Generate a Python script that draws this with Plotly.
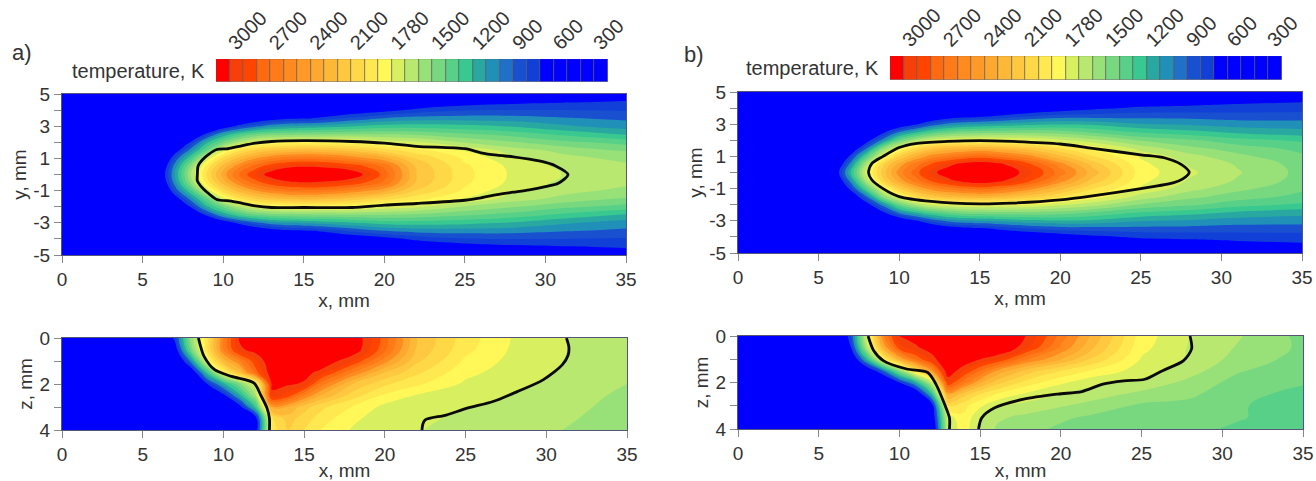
import plotly.graph_objects as go

W, H = 1316, 481
# ---------- data ----------
x_grid = [0,5,6,7,8,9,10,11,12,13,14,15,16,18,20,22,25,28,31,35]
y_levels = [0,0.5,1,1.5,2,2.5,3,3.5,4,4.5,5]
z_levels = [0,0.5,1,1.5,2,2.5,3,3.5,4]

a_y00 = [300,300,600,1100,1600,2020,2350,2600,2800,2980,3100,3120,3100,3020,2650,2200,1930,1780,1700,1640]
a_y05 = [300,300,550,1050,1520,1950,2250,2480,2650,2780,2860,2890,2880,2780,2580,2180,1920,1770,1680,1625]
a_y10 = [300,300,430,920,1300,1740,2050,2250,2400,2500,2560,2580,2570,2480,2340,2090,1880,1720,1640,1570]
a_y15 = [300,300,320,700,1050,1400,1760,1980,2100,2180,2220,2240,2230,2160,2040,1940,1790,1650,1570,1490]
a_y20 = [300,300,300,450,820,1180,1420,1620,1760,1810,1840,1850,1850,1840,1770,1720,1590,1510,1430,1360]
a_y25 = [300,300,300,300,520,850,1120,1290,1400,1450,1470,1480,1490,1500,1500,1480,1420,1360,1280,1190]
a_y30 = [300,300,300,300,330,480,680,850,970,1060,1100,1120,1140,1190,1240,1250,1230,1190,1120,1050]
a_y35 = [300,300,300,300,300,300,370,500,640,720,770,780,820,920,1000,1040,1050,1040,1010,980]
a_y40 = [300,300,300,300,300,300,300,300,380,440,480,500,540,680,750,830,890,900,900,890]
a_y45 = [300,300,300,300,300,300,300,300,300,300,320,350,380,480,600,660,730,770,790,810]
a_y50 = [300,300,300,300,300,300,300,300,300,300,300,300,300,340,400,500,600,660,690,730]

a_z00 = [300,300,450,850,1550,1950,2500,2920,2970,3050,3100,3120,3100,3010,2650,2200,1950,1790,1705,1650]
a_z05 = [300,300,380,700,1450,2000,2500,2870,2960,3060,3110,3130,3110,3000,2620,2180,1930,1780,1705,1640]
a_z10 = [300,300,320,500,1050,1800,2250,2500,2780,3020,3060,3060,3020,2800,2440,2120,1880,1765,1700,1630]
a_z15 = [300,300,300,350,620,1250,1850,2200,2650,2985,2990,2950,2860,2500,2200,2020,1830,1745,1690,1620]
a_z20 = [300,300,300,300,420,800,1150,1480,1800,2920,2920,2880,2560,2200,2020,1920,1780,1720,1675,1600]
a_z25 = [300,300,300,300,300,450,750,1150,1600,2880,2750,2500,2300,2050,1880,1790,1740,1695,1655,1575]
a_z30 = [300,300,300,300,300,300,400,730,1250,2350,2300,2150,2030,1895,1770,1750,1705,1670,1640,1555]
a_z35 = [300,300,300,300,300,300,300,450,720,1980,2150,2050,1960,1820,1750,1720,1680,1650,1620,1540]
a_z40 = [300,300,300,300,300,300,300,300,700,1950,2100,2000,1900,1790,1740,1705,1670,1640,1600,1530]

b_y00 = [300,300,650,1200,1770,2150,2450,2650,2850,2990,3080,3100,3060,2840,2550,2250,1850,1720,1610,1470]
b_y05 = [300,300,560,1060,1640,2080,2350,2550,2720,2850,2960,3010,2960,2740,2450,2170,1830,1690,1590,1460]
b_y10 = [300,300,460,850,1350,1800,2100,2300,2450,2540,2600,2640,2600,2450,2230,2010,1785,1640,1530,1420]
b_y15 = [300,300,350,620,1000,1500,1790,2010,2150,2220,2260,2280,2260,2150,2000,1860,1660,1530,1450,1370]
b_y20 = [300,300,300,440,730,1050,1400,1600,1730,1790,1810,1820,1810,1800,1720,1640,1490,1420,1340,1280]
b_y25 = [300,300,300,300,500,760,1020,1180,1310,1390,1440,1460,1470,1470,1450,1390,1290,1240,1180,1140]
b_y30 = [300,300,300,300,320,450,640,780,930,1030,1080,1100,1120,1170,1190,1180,1110,1085,1050,1040]
b_y35 = [300,300,300,300,300,300,340,480,610,690,740,770,810,890,940,950,960,960,950,950]
b_y40 = [300,300,300,300,300,300,300,300,360,420,470,500,540,650,710,770,820,830,840,850]
b_y45 = [300,300,300,300,300,300,300,300,300,300,320,340,370,450,600,640,690,730,760,780]
b_y50 = [300,300,300,300,300,300,300,300,300,300,300,300,300,330,380,440,520,590,640,680]

b_z00 = [300,300,420,900,1770,2480,2910,2950,2995,3060,3100,3110,3090,2880,2560,2270,1850,1700,1610,1470]
b_z05 = [300,300,350,800,1650,2300,2760,2880,2960,3040,3100,3110,3080,2800,2480,2210,1830,1690,1590,1480]
b_z10 = [300,300,300,550,1200,1870,2300,2600,2850,3020,3020,2900,2810,2500,2300,2080,1790,1685,1560,1460]
b_z15 = [300,300,300,330,600,1000,1500,2000,2400,3010,2800,2600,2400,2150,2000,1880,1750,1640,1510,1430]
b_z20 = [300,300,300,300,300,420,800,1150,1700,2800,2550,2320,2150,1950,1820,1730,1670,1570,1460,1410]
b_z25 = [300,300,300,300,300,300,350,560,1200,2350,2150,2000,1900,1770,1690,1650,1570,1520,1430,1370]
b_z30 = [300,300,300,300,300,300,300,400,700,2000,1930,1820,1710,1660,1610,1560,1480,1470,1410,1350]
b_z35 = [300,300,300,300,300,300,300,320,600,1750,1880,1710,1620,1570,1520,1480,1460,1450,1410,1340]
b_z40 = [300,300,300,300,300,300,300,300,500,1720,1850,1690,1590,1530,1480,1450,1440,1430,1380,1330]

# black melt-front outlines
a_top_x = [8.4,8.45,8.7,9.1,9.6,10.3,11,12,13,15,18,20,22,25,26,27,28,29,30,30.6,31.4,30.8,30,29,28,27,26,25,22,20,18,15,13,12,11,10.5,9.6,9,8.6,8.4,8.4]
a_top_y = [0,0.55,0.9,1.25,1.55,1.6,1.75,1.95,2.05,2.1,2.05,1.95,1.75,1.6,1.35,1.2,1.1,0.95,0.75,0.55,0,-0.55,-0.75,-0.95,-1.1,-1.25,-1.45,-1.6,-1.8,-1.9,-2.05,-2.05,-2.05,-1.95,-1.75,-1.65,-1.55,-1.1,-0.7,-0.4,0]
a_bot_l_x = [8.45,8.6,8.8,9.45,10.5,11.9,12.3,12.7,12.85,12.85]
a_bot_l_z = [0,0.4,0.8,1.38,1.67,1.96,2.47,3.05,3.5,4]
a_bot_r_x = [22.3,22.35,22.5,23.8,25.1,26.7,28.2,29.8,31,31.35,31.4,31.25]
a_bot_r_z = [4,3.75,3.56,3.35,3.05,2.76,2.33,1.82,1.16,0.75,0.4,0]
b_top_x = [8.1,8.3,9,10,11,13,15,17,20,22,25,26.5,27.5,28,27.6,27,25,22,20,17,15,12,10,9,8.3,8.1]
b_top_y = [0,0.55,1.0,1.55,1.8,1.93,1.98,1.93,1.77,1.5,1.1,0.9,0.5,0,-0.4,-0.65,-1.0,-1.45,-1.7,-1.9,-1.95,-1.8,-1.5,-1.0,-0.45,0]
b_bot_l_x = [8.06,8.4,9,10.45,11.75,12.26,12.8,13.1,13.1]
b_bot_l_z = [0,0.62,1.06,1.42,1.57,2.07,2.94,3.52,4]
b_bot_r_x = [14.9,15.1,15.9,17.7,19.8,21.3,22.6,23.9,25.2,26.3,27.6,28.1,28]
b_bot_r_z = [4,3.52,3.09,2.72,2.5,2.39,2.07,1.93,1.86,1.49,1.06,0.55,0]

# colour-bar cells from hottest to coolest
cell_colors = ["#ff0000","#f5400a","#ff4400","#ff6a10","#ff7a18","#ff8a20","#ff9a28","#ffa830","#fdb838",
               "#ffc840","#ffd848","#ffe850","#fff858","#d8f060","#b8e870","#98e078","#78d880","#58d088",
               "#38c890","#28a8a0","#2090b8","#2070c8","#1850d0","#1040d8","#0000ff","#0000ff","#0000ff",
               "#0000ff","#0000ff"]
bar_labels = ["3000","2700","2400","2100","1780","1500","1200","900","600","300"]
bar_label_cells = [0.5,3.5,6.5,9.5,12.5,15.5,18.5,21.5,24.5,27.5]
y_tick_vals = [-5,-3,-1,1,3,5]
y_tick_text = ["-5","-3","-1","1","3","5"]
z_vals = [0, 2, 4]
z_text = ["0", "2", "4"]

INK = "#333333"
FONT = "Liberation Sans"
FS = 19

# ---------- helpers ----------
def dx(l, r):
    return [l / W, r / W]

def dy(t, b):
    return [1 - b / H, 1 - t / H]

def mirrored(rows):
    return rows[:0:-1] + rows

def mirrored_y(levels):
    return [-v for v in levels[:0:-1]] + levels

fig = go.Figure()

asc = [cell_colors[0]] + cell_colors
asc = asc[::-1]
n = len(asc)
cs = []
for i, c in enumerate(asc):
    cs += [[i / n, c], [(i + 1) / n, c]]

def field(x_ax, y_ax, ys, zs):
    fig.add_trace(go.Contour(
        x=x_grid, y=ys, z=zs, xaxis=x_ax, yaxis=y_ax,
        autocontour=False, zmin=300, zmax=3300,
        contours=dict(start=200, end=3100, size=100, coloring="fill", showlines=False),
        line=dict(width=0, smoothing=1.3), colorscale=cs, showscale=False, hoverinfo="skip"))

def outline(x_ax, y_ax, xs, ys):
    fig.add_trace(go.Scatter(x=xs, y=ys, xaxis=x_ax, yaxis=y_ax, mode="lines",
                             line=dict(color="#0a0a0a", width=2.8, shape="spline", smoothing=0.8),
                             showlegend=False, hoverinfo="skip"))

field("x", "y", mirrored_y(y_levels), mirrored([a_y00,a_y05,a_y10,a_y15,a_y20,a_y25,a_y30,a_y35,a_y40,a_y45,a_y50]))
outline("x", "y", a_top_x, a_top_y)
field("x2", "y2", z_levels, [a_z00,a_z05,a_z10,a_z15,a_z20,a_z25,a_z30,a_z35,a_z40])
outline("x2", "y2", a_bot_l_x, a_bot_l_z)
outline("x2", "y2", a_bot_r_x, a_bot_r_z)
field("x3", "y3", mirrored_y(y_levels), mirrored([b_y00,b_y05,b_y10,b_y15,b_y20,b_y25,b_y30,b_y35,b_y40,b_y45,b_y50]))
outline("x3", "y3", b_top_x, b_top_y)
field("x4", "y4", z_levels, [b_z00,b_z05,b_z10,b_z15,b_z20,b_z25,b_z30,b_z35,b_z40])
outline("x4", "y4", b_bot_l_x, b_bot_l_z)
outline("x4", "y4", b_bot_r_x, b_bot_r_z)

for xa, ya in (("x5", "y5"), ("x6", "y6")):
    fig.add_trace(go.Bar(x=list(range(len(cell_colors))), y=[1] * len(cell_colors), xaxis=xa, yaxis=ya,
                         width=1, marker=dict(color=cell_colors, line=dict(color="#555555", width=0.6)),
                         showlegend=False, hoverinfo="skip"))

def xax(dom, anchor, title):
    return dict(domain=dom, anchor=anchor, range=[0, 35], tickmode="linear", tick0=0, dtick=5, automargin=False,
                ticks="outside", ticklen=7, tickcolor="#888888", tickfont=dict(family=FONT, size=FS, color=INK),
                showline=True, mirror=True, linecolor="#555577", linewidth=1, showgrid=False, zeroline=False,
                title=dict(text=title, font=dict(family=FONT, size=FS, color=INK), standoff=4))

def yax(dom, anchor, rng, vals, text, title):
    return dict(domain=dom, anchor=anchor, range=rng, tickmode="array", tickvals=vals, ticktext=text, automargin=False,
                ticks="outside", ticklen=7, tickcolor="#888888", tickfont=dict(family=FONT, size=FS, color=INK),
                minor=dict(ticks="outside", ticklen=7, tickcolor="#888888", dtick=1, showgrid=False),
                showline=True, mirror=True, linecolor="#555577", linewidth=1, showgrid=False, zeroline=False,
                title=dict(text=title, font=dict(family=FONT, size=FS, color=INK), standoff=1))

def barx(dom, anchor):
    return dict(domain=dom, anchor=anchor, side="top", range=[-0.5, 28.5], tickmode="array", automargin=False,
                tickvals=bar_label_cells, ticktext=bar_labels, tickangle=-45, ticks="",
                tickfont=dict(family=FONT, size=20, color=INK), showgrid=False, zeroline=False,
                showline=False)

def bary(dom, anchor):
    return dict(domain=dom, anchor=anchor, range=[0, 1], showticklabels=False, ticks="", showgrid=False,
                zeroline=False, showline=False, automargin=False)

fig.update_layout(
    width=W, height=H, margin=dict(l=0, r=0, t=0, b=0), autosize=False,
    paper_bgcolor="white", plot_bgcolor="white", showlegend=False, bargap=0,
    xaxis=xax(dx(62, 626), "y", "x, mm"),
    yaxis=yax(dy(94, 255), "x", [-5, 5], y_tick_vals, y_tick_text, "y, mm"),
    xaxis2=xax(dx(62, 627), "y2", "x, mm"),
    yaxis2=yax(dy(338, 430), "x2", [4, 0], z_vals, z_text, "z, mm"),
    xaxis3=xax(dx(738, 1302), "y3", "x, mm"),
    yaxis3=yax(dy(92, 253), "x3", [-5, 5], y_tick_vals, y_tick_text, "y, mm"),
    xaxis4=xax(dx(738, 1303), "y4", "x, mm"),
    yaxis4=yax(dy(336, 429), "x4", [4, 0], z_vals, z_text, "z, mm"),
    xaxis5=barx(dx(216, 608), "y5"), yaxis5=bary(dy(59, 82), "x5"),
    xaxis6=barx(dx(890, 1282), "y6"), yaxis6=bary(dy(56, 80), "x6"),
    annotations=[
        dict(text="temperature, K", x=207 / W, y=1 - 71 / H, xref="paper", yref="paper", xanchor="right",
             yanchor="middle", showarrow=False, font=dict(family=FONT, size=20, color=INK)),
        dict(text="temperature, K", x=881 / W, y=1 - 68 / H, xref="paper", yref="paper", xanchor="right",
             yanchor="middle", showarrow=False, font=dict(family=FONT, size=20, color=INK)),
        dict(text="a)", x=10 / W, y=1 - 52 / H, xref="paper", yref="paper", xanchor="left", yanchor="middle",
             showarrow=False, font=dict(family=FONT, size=22, color=INK)),
        dict(text="b)", x=682 / W, y=1 - 54 / H, xref="paper", yref="paper", xanchor="left", yanchor="middle",
             showarrow=False, font=dict(family=FONT, size=22, color=INK)),
    ],
)

fig.write_html("out.html", post_script="document.body.style.margin='0';",
               config={"displayModeBar": False})
